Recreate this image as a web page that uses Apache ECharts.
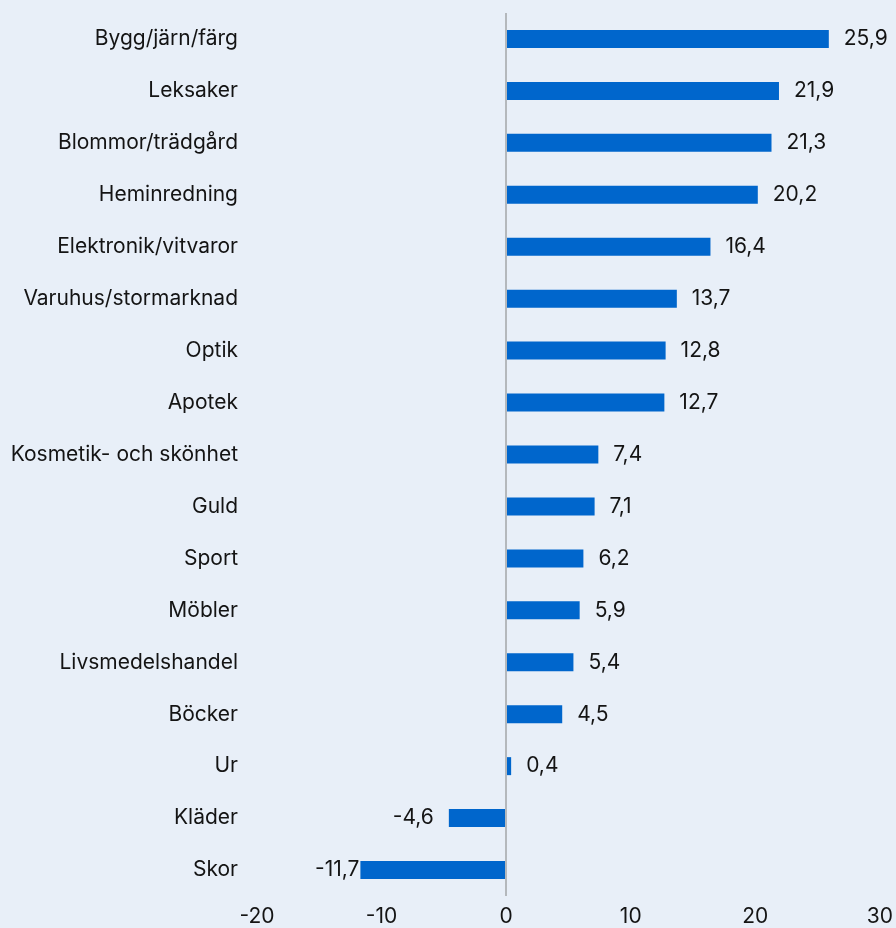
<!DOCTYPE html>
<html>
<head>
<meta charset="utf-8">
<script src="https://cdn.jsdelivr.net/npm/echarts@6/dist/echarts.min.js"></script>
<style>
  html, body { margin: 0; padding: 0; background: #e8eff8; }
  #chart { width: 896px; height: 928px; }
</style>
</head>
<body>
<div id="chart"></div>
<script>
const categories = [
  'Bygg/järn/färg', 'Leksaker', 'Blommor/trädgård', 'Heminredning',
  'Elektronik/vitvaror', 'Varuhus/stormarknad', 'Optik', 'Apotek',
  'Kosmetik- och skönhet', 'Guld', 'Sport', 'Möbler', 'Livsmedelshandel',
  'Böcker', 'Ur', 'Kläder', 'Skor'
];
const values = [25.9, 21.9, 21.3, 20.2, 16.4, 13.7, 12.8, 12.7, 7.4, 7.1, 6.2, 5.9, 5.4, 4.5, 0.4, -4.6, -11.7];
const xTicks = [-20, -10, 0, 10, 20, 30];

const font = 'Inter, "Liberation Sans", sans-serif';
const fmt = v => String(v).replace('.', ',');

const chart = echarts.init(document.getElementById('chart'), null, { renderer: 'canvas' });

chart.setOption({
  backgroundColor: '#e8eff8',
  animation: false,
  grid: { left: 257, right: 16, top: 13, bottom: 32, containLabel: false },
  xAxis: {
    type: 'value',
    min: xTicks[0],
    max: xTicks[xTicks.length - 1],
    interval: 10,
    axisLine: { show: false },
    axisTick: { show: false },
    splitLine: { show: false },
    axisLabel: { color: '#141414', fontSize: 21, fontFamily: font, margin: 10 }
  },
  yAxis: {
    type: 'category',
    inverse: true,
    data: categories,
    axisLine: { show: false, onZero: false },
    axisTick: { show: false },
    axisLabel: { color: '#141414', fontSize: 21, fontFamily: font, margin: 19 }
  },
  series: [{
    type: 'bar',
    barWidth: 18,
    itemStyle: { color: '#0066cc' },
    data: values.map(v => ({
      value: v,
      label: v < 0
        ? { position: 'left', distance: v < -10 ? 1 : 15 }
        : { position: 'right', distance: 15 }
    })),
    label: {
      show: true,
      color: '#141414',
      fontSize: 21,
      fontFamily: font,
      formatter: p => fmt(p.value)
    },
    markLine: {
      silent: true,
      symbol: 'none',
      label: { show: false },
      lineStyle: { color: '#b4b8bc', width: 2, type: 'solid' },
      data: [{ xAxis: 0 }]
    }
  }]
});
</script>
</body>
</html>
